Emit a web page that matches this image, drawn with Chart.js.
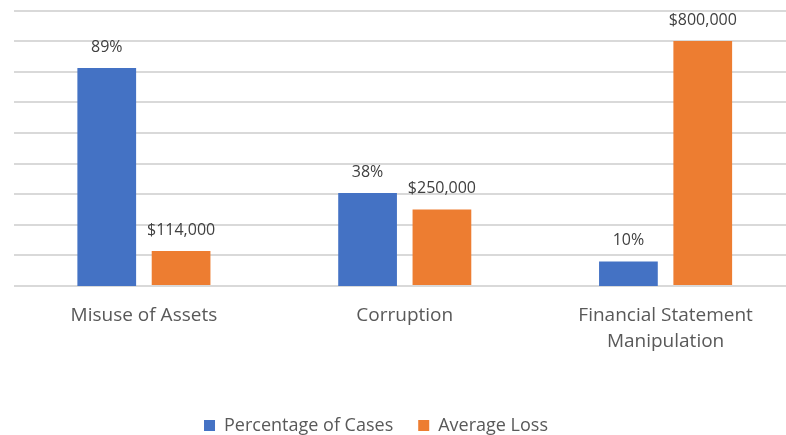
<!DOCTYPE html>
<html>
<head>
<meta charset="utf-8">
<script src="https://cdn.jsdelivr.net/npm/chart.js@4/dist/chart.umd.min.js"></script>
<style>
  html, body { margin: 0; padding: 0; background: #fff; overflow: hidden; }
  #wrap { width: 786px; height: 435px; overflow: hidden; position: relative; }
  #myChart { position: absolute; left: 0; top: 0; }
</style>
</head>
<body>
<div id="wrap"><canvas id="myChart" width="800" height="435"></canvas></div>
<script>
// chart data
const categories = ["Misuse of Assets", "Corruption", ["Financial Statement", "Manipulation"]];
const pctCases = [89, 38, 10];
const avgLoss = [114000, 250000, 800000];
const seriesNames = ["Percentage of Cases", "Average Loss"];

const textFont = "'Open Sans', sans-serif";

// value labels above the bars
const barLabels = {
  id: "barLabels",
  afterDatasetsDraw(chart) {
    const ctx = chart.ctx;
    ctx.save();
    ctx.font = "16px " + textFont;
    ctx.fillStyle = "#404040";
    ctx.textAlign = "center";
    ctx.textBaseline = "middle";
    chart.data.datasets.forEach((ds, i) => {
      const meta = chart.getDatasetMeta(i);
      meta.data.forEach((bar, j) => {
        const v = ds.data[j];
        const txt = i === 0 ? v + "%" : "$" + v.toLocaleString("en-US");
        ctx.fillText(txt, bar.x, bar.y - 21);
      });
    });
    ctx.restore();
  }
};

// move the legend to where it sits in the original
const legendShift = {
  id: "legendShift",
  afterLayout(chart) {
    const lg = chart.legend;
    const dx = 376 - (lg.left + lg.right) / 2;
    const dy = 418 - (lg.top + lg.bottom) / 2;
    lg.left += dx; lg.right += dx;
    lg.top += dy; lg.bottom += dy;
  }
};

var ctx = document.getElementById("myChart").getContext("2d");
var chart = new Chart(ctx, {
  type: "bar",
  data: {
    labels: categories,
    datasets: [
      {
        label: seriesNames[0],
        data: pctCases,
        backgroundColor: "#4472C4",
        yAxisID: "y",
      },
      {
        label: seriesNames[1],
        data: avgLoss,
        backgroundColor: "#ED7D31",
        yAxisID: "y1",
      },
    ],
  },
  options: {
    responsive: false,
    animation: false,
    categoryPercentage: 0.57,
    barPercentage: 0.79,
    layout: { padding: { left: 13.5, right: 4, top: 10.5, bottom: 0 } },
    plugins: {
      legend: {
        position: "bottom",
        labels: {
          boxWidth: 11,
          boxHeight: 11,
          padding: 25,
          color: "#595959",
          font: { family: textFont, size: 18 },
        },
      },
      tooltip: { enabled: false },
    },
    scales: {
      x: {
        grid: { display: false, drawTicks: false },
        border: { display: false },
        ticks: {
          color: "#595959",
          padding: 16,
          maxRotation: 0,
          autoSkip: false,
          font: { family: textFont, size: 19, lineHeight: 1.4 },
        },
        afterFit(s) { s.height = 96; },
      },
      y: {
        display: false,
        min: 0,
        max: 112.5,
      },
      y1: {
        position: "left",
        min: 0,
        max: 900000,
        ticks: { display: false, stepSize: 100000 },
        grid: { color: "#D9D9D9", lineWidth: 2, drawTicks: false },
        border: { display: false },
      },
    },
  },
  plugins: [barLabels, legendShift],
});
</script>
</body>
</html>
